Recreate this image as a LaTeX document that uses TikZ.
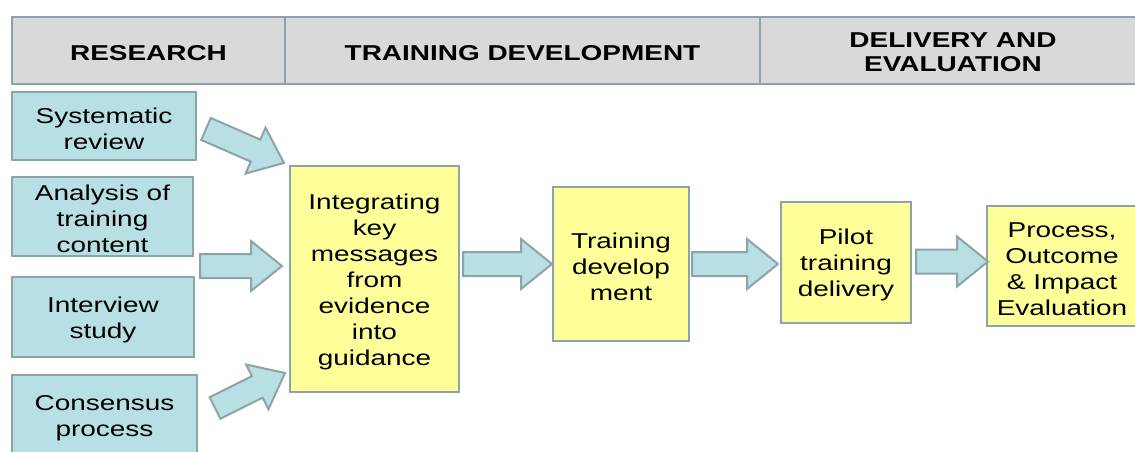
\documentclass[tikz,border=0pt]{standalone}
\usepackage{fontspec}
\setmainfont[FakeStretch=1.3]{Liberation Sans}
\usepackage{tikz}
\usetikzlibrary{calc,positioning}
\definecolor{headgray}{RGB}{217,217,217}
\definecolor{boxblue}{RGB}{184,223,227}
\definecolor{boxyellow}{RGB}{255,255,153}
\definecolor{edgegray}{RGB}{140,164,167}
% taller first line, sets the text a little lower in its box
\newcommand{\boxstrut}{\rule{0pt}{20.5pt}}
\tikzset{
    %Define style for the phase headers
    phase/.style={
           rectangle,
           draw=edgegray, line width=2pt,
           fill=headgray,
           minimum height=67pt,
           inner sep=0pt, outer sep=0pt,
           font=\bfseries\fontsize{21.5}{24}\selectfont,
           align=center},
    %Define style for the research boxes
    source/.style={
           rectangle,
           draw=edgegray, line width=2pt,
           fill=boxblue,
           inner sep=0pt, outer sep=0pt,
           font=\fontsize{21.5}{26}\selectfont,
           align=center},
    %Define style for the process boxes
    stage/.style={
           rectangle,
           draw=edgegray, line width=2pt,
           fill=boxyellow,
           inner sep=0pt, outer sep=0pt,
           font=\fontsize{21.5}{26}\selectfont,
           align=center},
    % Define block arrow style
    blockarrow/.style={
           draw=edgegray, fill=boxblue,
           line width=2pt, line join=miter,
           to path={
             let \p1=(\tikztostart), \p2=(\tikztotarget),
                 \n1={atan2(\y2-\y1,\x2-\x1)},
                 \n2={veclen(\x2-\x1,\y2-\y1)-31pt}
             in ($(\p1)+(\n1+90:12pt)$) -- ++(\n1:\n2)
                -- ($(\p1)+(\n1:\n2)+(\n1+90:25pt)$)
                -- (\p2)
                -- ($(\p1)+(\n1:\n2)+(\n1-90:25pt)$)
                -- ($(\p1)+(\n1:\n2)+(\n1-90:12pt)$)
                -- ($(\p1)+(\n1-90:12pt)$) -- cycle}}
}

\begin{document}
\begin{tikzpicture}[x=1pt,y=-1pt]
\useasboundingbox (0,0) rectangle (1135,452);

 %headers
\node[phase, minimum width=273pt, anchor=north west] (head1) at (12,17) {\boxstrut RESEARCH};
\node[phase, minimum width=475pt, right=0pt of head1] (head2) {\boxstrut TRAINING DEVELOPMENT};
\node[phase, minimum width=386pt, right=0pt of head2] (head3) {\rule{0pt}{18pt}DELIVERY AND\\EVALUATION};

 %research boxes
\node[source, minimum width=184pt, minimum height=68pt, anchor=north west] (sysrev) at (12,92) {\boxstrut Systematic\\review};
\node[source, minimum width=181pt, minimum height=79pt, below=17pt of sysrev.south west, anchor=north west] (analysis) {\boxstrut Analysis of\\training\\content};
\node[source, minimum width=182pt, minimum height=80pt, below=21pt of analysis.south west, anchor=north west] (interview) {\boxstrut Interview\\study};
\node[source, minimum width=185pt, minimum height=80pt, below=18pt of interview.south west, anchor=north west] (consensus) {\boxstrut Consensus\\process};

 %process boxes
\node[stage, minimum width=169pt, minimum height=226pt, anchor=north west] (integ) at (290,166) {\boxstrut Integrating\\key\\messages\\from\\evidence\\into\\guidance};
\node[stage, minimum width=136pt, minimum height=154pt, anchor=north west] (traindev) at (553,187) {\boxstrut Training\\develop\\ment};
\node[stage, minimum width=130pt, minimum height=121pt, anchor=north west] (pilot) at (781,202) {\boxstrut Pilot\\training\\delivery};
\node[stage, minimum width=150pt, minimum height=120pt, anchor=north west] (evalbox) at (987,206) {\boxstrut Process,\\Outcome\\\& Impact\\Evaluation};

 %arrows
\draw[blockarrow] ($(sysrev.east)+(10,3)$) to ($(integ.north west)+(-6,-3)$);
\draw[blockarrow] ($(analysis.south east)+(7,10)$) to ($(integ.west)+(-8,-13)$);
\draw[blockarrow] ($(consensus.north east)+(18,33)$) to ($(integ.south west)+(-5,-19)$);
\draw[blockarrow] ($(integ.east |- traindev.west)+(4,0)$) to ($(traindev.west)+(-1,0)$);
\draw[blockarrow] ($(traindev.east)+(3,0)$) to ($(traindev.east -| pilot.west)+(-3,0)$);
\draw[blockarrow] ($(pilot.east)+(5,-1)$) to ($(pilot.east -| evalbox.west)+(1,-1)$);
\end{tikzpicture}
\end{document}
